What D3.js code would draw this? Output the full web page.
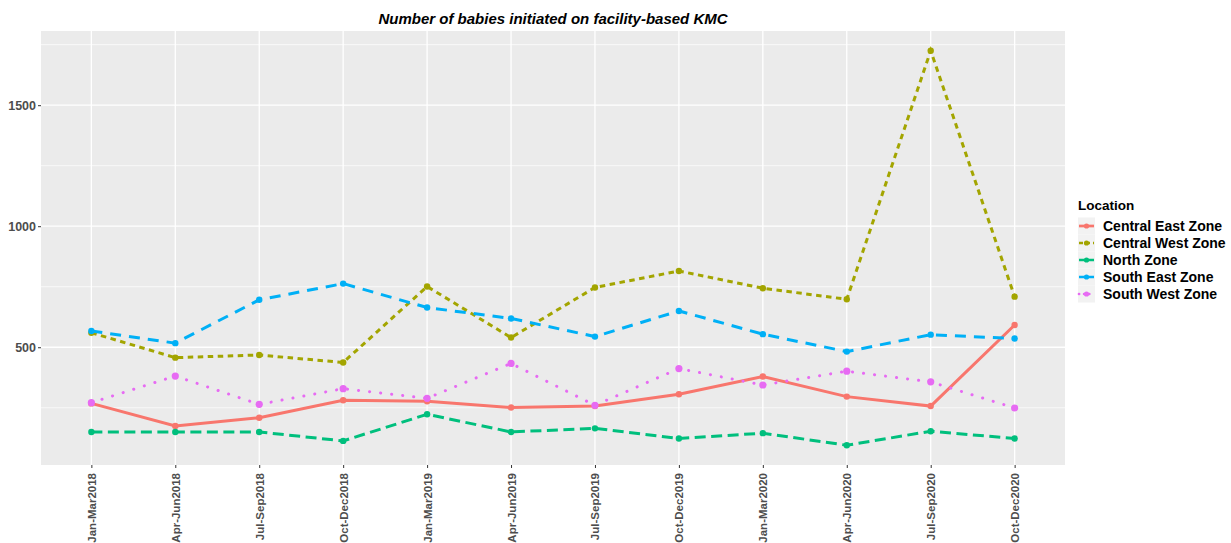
<!DOCTYPE html>
<html><head><meta charset="utf-8">
<script src="https://cdn.jsdelivr.net/npm/d3@7"></script>
<style>body{margin:0;background:#fff;font-family:"Liberation Sans",Arial,sans-serif}</style>
</head><body><svg id="c" width="1231" height="543"></svg>
<script>
const categories = ["Jan-Mar2018","Apr-Jun2018","Jul-Sep2018","Oct-Dec2018","Jan-Mar2019","Apr-Jun2019","Jul-Sep2019","Oct-Dec2019","Jan-Mar2020","Apr-Jun2020","Jul-Sep2020","Oct-Dec2020"];
const seriesNames = ["Central East Zone","Central West Zone","North Zone","South East Zone","South West Zone"];
const centralEast = [268,175,209,281,277,251,257,306,379,296,257,592];
const centralWest = [560,457,468,437,751,540,747,815,744,698,1725,709];
const northZone = [150,150,150,113,223,150,165,123,145,95,153,123];
const southEast = [567,517,696,763,664,619,544,650,554,482,552,536];
const southWest = [271,381,264,329,289,433,260,412,344,401,357,249];
const yTicks = [500,1000,1500];
const yMinor = [250,750,1250,1750];
const title = "Number of babies initiated on facility-based KMC";
const legendTitle = "Location";

const colors = ["#F8766D","#A3A500","#00BF7D","#00B0F6","#E76BF3"];
const dashes = [null,"5.5,4.5","11,5.5","11,8","0.1,11"];
const widths = [3,3,3,3,3];
const allSeries = [centralEast,centralWest,northZone,southEast,southWest];

const svg = d3.select("#c");
const P = {l:41, r:1065, t:31, b:465};
const x = d3.scalePoint().domain(categories).range([P.l, P.r]).padding(0.6);
const allV = allSeries.flat();
const lo = d3.min(allV), hi = d3.max(allV), ex = (hi-lo)*0.05;
const y = d3.scaleLinear().domain([lo-ex, hi+ex]).range([P.b, P.t]);

svg.append("rect").attr("x",P.l).attr("y",P.t).attr("width",P.r-P.l).attr("height",P.b-P.t).attr("fill","#EBEBEB");
const g = svg.append("g");
yMinor.filter(v=>y(v)>=P.t&&y(v)<=P.b).forEach(v=>g.append("line").attr("x1",P.l).attr("x2",P.r).attr("y1",y(v)).attr("y2",y(v)).attr("stroke","#fff").attr("stroke-width",0.7));
yTicks.forEach(v=>g.append("line").attr("x1",P.l).attr("x2",P.r).attr("y1",y(v)).attr("y2",y(v)).attr("stroke","#fff").attr("stroke-width",1.3));
categories.forEach(c=>g.append("line").attr("x1",x(c)).attr("x2",x(c)).attr("y1",P.t).attr("y2",P.b).attr("stroke","#fff").attr("stroke-width",1.3));

// axes
const ya = svg.append("g").attr("transform",`translate(${P.l},0)`).call(d3.axisLeft(y).tickValues(yTicks).tickFormat(d3.format("d")).tickSize(3).tickPadding(2));
ya.select(".domain").remove();
ya.selectAll("line").attr("stroke","#333");
ya.selectAll("text").attr("fill","#4D4D4D").attr("font-weight","bold").attr("font-size","12.5px").attr("font-family","Liberation Sans, Arial, sans-serif");
const xa = svg.append("g").attr("transform",`translate(0,${P.b})`).call(d3.axisBottom(x).tickSize(3).tickPadding(3));
xa.select(".domain").remove();
xa.selectAll("line").attr("stroke","#333");
xa.selectAll("text").attr("fill","#4D4D4D").attr("font-weight","bold").attr("font-size","11.5px").attr("font-family","Liberation Sans, Arial, sans-serif")
  .attr("transform","rotate(-90)").attr("text-anchor","end").attr("dy","0.35em").attr("x",-8).attr("y",0);

// lines
const line = d3.line().x((d,i)=>x(categories[i])).y(d=>y(d));
allSeries.forEach((s,k)=>{
  const p = svg.append("path").datum(s).attr("d",line).attr("fill","none").attr("stroke",colors[k]).attr("stroke-width",widths[k]).attr("stroke-linecap", k===4?"round":"butt");
  if(dashes[k]) p.attr("stroke-dasharray",dashes[k]);
  svg.selectAll(null).data(s).enter().append("circle").attr("cx",(d,i)=>x(categories[i])).attr("cy",d=>y(d)).attr("r",k===4?3.6:3.2).attr("fill",colors[k]);
});

// title
svg.append("text").attr("x",(P.l+P.r)/2).attr("y",24).attr("text-anchor","middle").attr("font-weight","bold").attr("font-style","italic").attr("font-size","15px").attr("fill","#000").text(title);

// legend
const L = svg.append("g");
L.append("text").attr("x",1078).attr("y",210).attr("font-weight","bold").attr("font-size","13.5px").attr("fill","#000").text(legendTitle);
seriesNames.forEach((n,k)=>{
  const yy = 226 + k*17;
  L.append("rect").attr("x",1078).attr("y",yy-8.5).attr("width",17).attr("height",17).attr("fill","#F2F2F2");
  const ln = L.append("line").attr("x1",1079).attr("x2",1094).attr("y1",yy).attr("y2",yy).attr("stroke",colors[k]).attr("stroke-width",2.7);
  if(dashes[k]) ln.attr("stroke-dasharray", k===4?"0.1,5":(k===1?"4,3":"6,3"));
  if(k===4) ln.attr("stroke-linecap","round");
  L.append("circle").attr("cx",1086.5).attr("cy",yy).attr("r",2.6).attr("fill",colors[k]);
  L.append("text").attr("x",1103).attr("y",yy+4.5).attr("font-weight","bold").attr("font-size","14px").attr("fill","#000").text(n);
});
</script></body></html>
